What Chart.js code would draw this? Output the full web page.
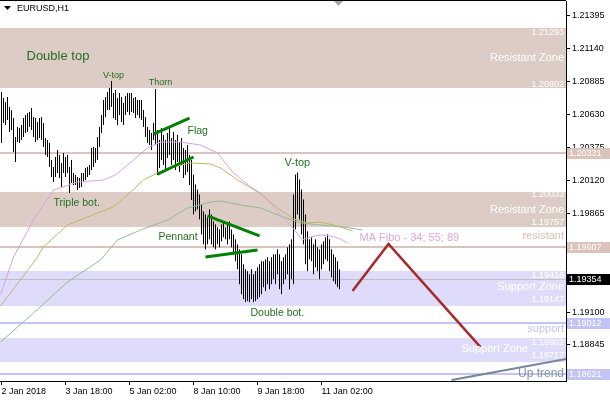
<!DOCTYPE html>
<html>
<head>
<meta charset="utf-8">
<script src="https://cdn.jsdelivr.net/npm/chart.js@4/dist/chart.umd.min.js"></script>
<style>
  html, body { margin: 0; padding: 0; background: #fff; }
  canvas { display: block; }
</style>
</head>
<body>
<canvas id="grafico" width="610" height="400"></canvas>
<script>
// EURUSD H1 - una barra por hora
const highs = [
  1.20806, 1.20759, 1.20728, 1.20767, 1.20690, 1.20666, 1.20604, 1.20457, 1.20535, 1.20527,
  1.20550, 1.20604, 1.20628, 1.20643, 1.20651, 1.20682, 1.20612, 1.20604, 1.20573, 1.20604,
  1.20612, 1.20565, 1.20449, 1.20434, 1.20411, 1.20279, 1.20225, 1.20302, 1.20356, 1.20318,
  1.20256, 1.20333, 1.20302, 1.20318, 1.20225, 1.20279, 1.20178, 1.20163, 1.20147, 1.20139,
  1.20178, 1.20178, 1.20217, 1.20225, 1.20240, 1.20372, 1.20380, 1.20372, 1.20457, 1.20535,
  1.20628, 1.20744, 1.20767, 1.20806, 1.20837, 1.20891, 1.20798, 1.20821, 1.20759, 1.20798,
  1.20767, 1.20721, 1.20775, 1.20798, 1.20798, 1.20798, 1.20759, 1.20767, 1.20744, 1.20744,
  1.20744, 1.20666, 1.20612, 1.20535, 1.20511, 1.20488, 1.20565, 1.20829, 1.20511, 1.20434,
  1.20527, 1.20473, 1.20434, 1.20488, 1.20527, 1.20449, 1.20496, 1.20434, 1.20473, 1.20418,
  1.20449, 1.20372, 1.20356, 1.20395, 1.20318, 1.20279, 1.20166, 1.20089, 1.20050, 1.20012,
  1.19934, 1.19880, 1.19857, 1.19834, 1.19896, 1.19857, 1.19803, 1.19780, 1.19757, 1.19741,
  1.19780, 1.19803, 1.19757, 1.19780, 1.19803, 1.19741, 1.19702, 1.19664, 1.19625, 1.19586,
  1.19548, 1.19471, 1.19432, 1.19417, 1.19393, 1.19432, 1.19393, 1.19417, 1.19447, 1.19471,
  1.19494, 1.19494, 1.19509, 1.19525, 1.19494, 1.19525, 1.19548, 1.19548, 1.19586, 1.19548,
  1.19494, 1.19525, 1.19548, 1.19602, 1.19625, 1.19664, 1.20012, 1.20166, 1.20182, 1.20128,
  1.20050, 1.19973, 1.19857, 1.19726, 1.19664, 1.19679, 1.19625, 1.19664, 1.19602, 1.19586,
  1.19625, 1.19648, 1.19679, 1.19702, 1.19664, 1.19586, 1.19548, 1.19525, 1.19494, 1.19432
];
const lows = [
  1.20411, 1.20565, 1.20550, 1.20589, 1.20496, 1.20511, 1.20341, 1.20263, 1.20418, 1.20411,
  1.20434, 1.20457, 1.20488, 1.20496, 1.20535, 1.20511, 1.20457, 1.20418, 1.20434, 1.20449,
  1.20434, 1.20380, 1.20318, 1.20302, 1.20225, 1.20147, 1.20108, 1.20147, 1.20178, 1.20139,
  1.20070, 1.20178, 1.20147, 1.20178, 1.20023, 1.20101, 1.20085, 1.20085, 1.20046, 1.20062,
  1.20070, 1.20108, 1.20124, 1.20147, 1.20163, 1.20201, 1.20225, 1.20256, 1.20279, 1.20380,
  1.20488, 1.20550, 1.20612, 1.20666, 1.20666, 1.20690, 1.20604, 1.20589, 1.20550, 1.20628,
  1.20573, 1.20550, 1.20628, 1.20651, 1.20628, 1.20651, 1.20643, 1.20604, 1.20628, 1.20604,
  1.20589, 1.20535, 1.20457, 1.20411, 1.20395, 1.20356, 1.20434, 1.20395, 1.20163, 1.20217,
  1.20279, 1.20240, 1.20186, 1.20294, 1.20318, 1.20240, 1.20279, 1.20201, 1.20263, 1.20186,
  1.20240, 1.20139, 1.20163, 1.20186, 1.20085, 1.19969, 1.19857, 1.19880, 1.19896, 1.19818,
  1.19702, 1.19625, 1.19586, 1.19625, 1.19664, 1.19625, 1.19602, 1.19586, 1.19625, 1.19602,
  1.19648, 1.19679, 1.19664, 1.19625, 1.19664, 1.19602, 1.19548, 1.19494, 1.19432, 1.19316,
  1.19239, 1.19200, 1.19177, 1.19185, 1.19177, 1.19200, 1.19177, 1.19185, 1.19200, 1.19216,
  1.19239, 1.19293, 1.19262, 1.19316, 1.19277, 1.19316, 1.19355, 1.19316, 1.19393, 1.19277,
  1.19239, 1.19316, 1.19355, 1.19393, 1.19277, 1.19355, 1.19316, 1.19741, 1.19857, 1.19818,
  1.19702, 1.19625, 1.19471, 1.19417, 1.19509, 1.19494, 1.19393, 1.19447, 1.19417, 1.19355,
  1.19432, 1.19471, 1.19509, 1.19494, 1.19417, 1.19370, 1.19339, 1.19316, 1.19293, 1.19277
];

// medias moviles (MA Fibo 34; 55; 89), leidas punto a punto
const ma34Bars = [-0.5, 6, 16, 26, 38, 51, 57, 66, 73, 79.5, 89.5, 99.5, 108, 116, 124.5, 129.5, 134.5, 139.5, 144.5, 150.5, 154.5, 159.5, 164.5, 169.5, 173];
const ma34Vals = [1.19233, 1.19527, 1.19814, 1.20046, 1.20108, 1.20124, 1.20163, 1.20279, 1.20372, 1.20418, 1.20418, 1.20395, 1.20333, 1.20178, 1.20070, 1.20023, 1.19946, 1.19853, 1.19775, 1.19659, 1.19682, 1.19698, 1.19690, 1.19667, 1.19636];
const ma55Bars = [-0.5, 17, 21, 33, 43, 56, 63, 71, 78, 86, 94.5, 104.5, 109.5, 118, 128, 138, 146, 153, 159.5, 166, 175.5];
const ma55Vals = [1.19147, 1.19504, 1.19605, 1.19775, 1.19837, 1.19915, 1.20008, 1.20124, 1.20178, 1.20225, 1.20256, 1.20248, 1.20217, 1.20124, 1.20031, 1.19907, 1.19822, 1.19791, 1.19798, 1.19775, 1.19729];
const ma89Bars = [-0.5, 16, 33, 49.5, 58, 69.5, 83, 93, 104.5, 109.5, 119.5, 129.5, 139.5, 149.5, 159.5, 171, 180.5];
const ma89Vals = [1.18868, 1.19093, 1.19333, 1.19504, 1.19659, 1.19736, 1.19814, 1.19907, 1.19953, 1.19961, 1.19930, 1.19907, 1.19845, 1.19791, 1.19775, 1.19760, 1.19736];

// objetos dibujados: flag, pennant, zigzag, tendencia
const flagTop = [[76, 1.20480], [94, 1.20604]];
const flagBottom = [[78, 1.20170], [96, 1.20302]];
const pennantTop = [[103, 1.19845], [129, 1.19690]];
const pennantBottom = [[102, 1.19527], [128, 1.19581]];
const zigzag = [[175.5, 1.19263], [193.5, 1.19628], [239.5, 1.18829]];
const upTrend = [[225, 1.18573], [283, 1.18738]];

// zonas y lineas horizontales
const zoneTops = [1.21302, 1.20033, 1.19416, 1.18902];
const zoneBottoms = [1.20833, 1.19757, 1.19147, 1.18717];
const levels = [1.20331, 1.19607, 1.19354, 1.19012, 1.18621];
const levelLabels = ['1.20331', '1.19607', '1.19354', '1.19012', '1.18621'];

const xTicks = [0, 32, 64, 96, 128, 160];
const xLabels = ['2 Jan 2018', '3 Jan 18:00', '5 Jan 02:00', '8 Jan 10:00', '9 Jan 18:00', '11 Jan 02:00'];
const yTicks = [1.18590, 1.18845, 1.19100, 1.19355, 1.19610, 1.19865, 1.20120, 1.20375, 1.20630, 1.20885, 1.21140, 1.21395];
const yLabels = ['1.18590', '1.18845', '1.19100', '1.19355', '1.19610', '1.19865', '1.20120', '1.20375', '1.20630', '1.20885', '1.21140', '1.21395'];
const yMin = 1.18566, yMax = 1.21511;
const xMin = -0.75, xMax = 282.25;

const BEIGE = '#ddccc5', BEIGE_LINEA = '#dbc3bc', LILA = '#dedcfa', LILA_LINEA = '#c3c3f5';
const VERDE = '#22701f';
const FUENTE = "'Liberation Sans', Arial, sans-serif";

const toPts = arr => arr.map(p => ({ x: p[0], y: p[1] }));
const serie = (bars, vals) => bars.map((b, i) => ({ x: b, y: vals[i] }));

// cada barra = segmento low-high, separado por un hueco
const barras = [];
highs.forEach((h, i) => {
    barras.push({ x: i, y: lows[i] }, { x: i, y: h }, { x: i, y: null });
});

const lineaObj = (data, color, w, order) => ({
    data: data, borderColor: color, borderWidth: w,
    pointRadius: 0, tension: 0, fill: false, order: order
});

// textos sobre el grafico (ancla en barra / precio)
const notas = [
    { t: 'Double top', bar: 12.5, p: 1.21085, s: 13, c: VERDE, a: 'left' },
    { t: 'V-top', bar: 56, p: 1.20930, s: 9, c: VERDE, a: 'center' },
    { t: 'Thorn', bar: 79.5, p: 1.20883, s: 9, c: VERDE, a: 'center' },
    { t: 'Flag', bar: 93, p: 1.20504, s: 10.5, c: VERDE, a: 'left' },
    { t: 'Triple bot.', bar: 26, p: 1.19946, s: 10.5, c: VERDE, a: 'left' },
    { t: 'Pennant', bar: 78.5, p: 1.19682, s: 10.5, c: VERDE, a: 'left' },
    { t: 'V-top', bar: 141.5, p: 1.20256, s: 11, c: VERDE, a: 'left' },
    { t: 'Double bot.', bar: 124.5, p: 1.19093, s: 10.5, c: VERDE, a: 'left' },
    { t: 'MA Fibo - 34; 55; 89', bar: 179, p: 1.19674, s: 11, c: '#dca6dc', a: 'left' },
    { t: 'Support Zone', bar: 230, p: 1.18814, s: 11, c: '#ffffff', a: 'left' }
];
// textos pegados al borde derecho
const notasDer = [
    { t: '1.21293', p: 1.21263, s: 9, c: '#ffffff' },
    { t: 'Resistant Zone', p: 1.21070, s: 11, c: '#ffffff' },
    { t: '1.20802', p: 1.20860, s: 9, c: '#ffffff' },
    { t: '1.20033', p: 1.20011, s: 9, c: '#ffffff' },
    { t: 'Resistant Zone', p: 1.19891, s: 11, c: '#ffffff' },
    { t: '1.19757', p: 1.19798, s: 9, c: '#ffffff' },
    { t: 'resistant', p: 1.19690, s: 11, c: '#d9bfae' },
    { t: '1.19416', p: 1.19380, s: 9, c: '#ffffff' },
    { t: 'Support Zone', p: 1.19295, s: 11, c: '#ffffff' },
    { t: '1.19147', p: 1.19201, s: 9, c: '#ffffff' },
    { t: 'support', p: 1.18969, s: 11, c: '#c3c3f2' },
    { t: '1.18902', p: 1.18868, s: 9, c: '#ffffff' },
    { t: '1.18717', p: 1.18760, s: 9, c: '#ffffff' },
    { t: 'Up trend', p: 1.18620, s: 12, c: '#8494a4' }
];

const dibujo = {
    id: 'dibujo',
    beforeDatasetsDraw(chart) {
        const { ctx, chartArea: a, scales: { y } } = chart;
        ctx.save();
        const colZona = [BEIGE, BEIGE, LILA, LILA];
        zoneTops.forEach((t, i) => {
            const y1 = Math.round(y.getPixelForValue(t));
            const y2 = Math.round(y.getPixelForValue(zoneBottoms[i]));
            ctx.fillStyle = colZona[i];
            ctx.fillRect(a.left, y1, a.right - a.left, y2 - y1);
        });
        const colNivel = [BEIGE_LINEA, BEIGE_LINEA, '#c0c0c0', LILA_LINEA, LILA_LINEA];
        const anchoNivel = [2, 2, 1, 2, 2];
        levels.forEach((v, i) => {
            const yy = Math.round(y.getPixelForValue(v));
            ctx.fillStyle = colNivel[i];
            ctx.fillRect(a.left, yy - (anchoNivel[i] > 1 ? 1 : 0), a.right - a.left, anchoNivel[i]);
        });
        ctx.restore();
    },
    afterDatasetsDraw(chart) {
        const { ctx, chartArea: a, scales: { x, y } } = chart;
        ctx.save();
        ctx.textBaseline = 'middle';
        notas.forEach(n => {
            ctx.font = n.s + 'px ' + FUENTE;
            ctx.fillStyle = n.c;
            ctx.textAlign = n.a;
            ctx.fillText(n.t, x.getPixelForValue(n.bar), y.getPixelForValue(n.p));
        });
        ctx.textAlign = 'right';
        notasDer.forEach(n => {
            ctx.font = n.s + 'px ' + FUENTE;
            ctx.fillStyle = n.c;
            ctx.fillText(n.t, a.right - 2, y.getPixelForValue(n.p));
        });
        ctx.restore();
    },
    afterDraw(chart) {
        const { ctx, chartArea: a, scales: { y }, width } = chart;
        ctx.save();
        // etiquetas de precio sobre el eje
        const fondo = [BEIGE_LINEA, BEIGE_LINEA, '#000000', LILA_LINEA, LILA_LINEA];
        ctx.font = '9px ' + FUENTE;
        ctx.textBaseline = 'middle';
        ctx.textAlign = 'left';
        levels.forEach((v, i) => {
            const yy = Math.round(y.getPixelForValue(v));
            ctx.fillStyle = fondo[i];
            ctx.fillRect(a.right + 1, yy - 5, width - a.right - 1, 11);
            ctx.fillStyle = '#ffffff';
            ctx.fillText(levelLabels[i], a.right + 3, yy + 0.5);
        });
        // borde superior
        ctx.fillStyle = '#000';
        ctx.fillRect(0, 0, a.right, 1);
        // simbolo
        ctx.beginPath();
        ctx.moveTo(4, 6); ctx.lineTo(11, 6); ctx.lineTo(7.5, 10); ctx.closePath();
        ctx.fill();
        ctx.font = '9px ' + FUENTE;
        ctx.fillText('EURUSD,H1', 17, 8.5);
        // marca de desplazamiento
        ctx.fillStyle = '#a8a8a8';
        ctx.beginPath();
        ctx.moveTo(334, 1); ctx.lineTo(343, 1); ctx.lineTo(338.5, 6); ctx.closePath();
        ctx.fill();
        ctx.restore();
    }
};

Chart.defaults.font.family = FUENTE;
Chart.defaults.color = '#000';

const ctx = document.getElementById('grafico').getContext('2d');
new Chart(ctx, {
    type: 'line',
    data: {
        datasets: [
            lineaObj(toPts(flagTop), '#008000', 3, 0),
            lineaObj(toPts(flagBottom), '#008000', 3, 0),
            lineaObj(toPts(pennantTop), '#008000', 3, 0),
            lineaObj(toPts(pennantBottom), '#008000', 3, 0),
            lineaObj(toPts(zigzag), '#a52a2a', 2.5, 0),
            lineaObj(toPts(upTrend), '#778899', 2, 0),
            lineaObj(serie(ma34Bars, ma34Vals), '#dda0dd', 1, 1),
            lineaObj(serie(ma55Bars, ma55Vals), '#bdb76b', 1, 1),
            lineaObj(serie(ma89Bars, ma89Vals), '#8fbc8f', 1, 1),
            Object.assign(lineaObj(barras, '#000', 1, 2), { spanGaps: false, borderCapStyle: 'butt' })
        ]
    },
    options: {
        responsive: false,
        animation: false,
        devicePixelRatio: 1,
        layout: { padding: { top: 1, left: 0, right: 0, bottom: 0 } },
        plugins: { legend: { display: false }, tooltip: { enabled: false } },
        scales: {
            x: {
                type: 'linear', min: xMin, max: xMax, offset: false,
                afterBuildTicks: s => { s.ticks = xTicks.map(v => ({ value: v })); },
                afterFit: s => { s.height = 19; s.paddingLeft = 0; s.paddingRight = 0; },
                ticks: {
                    autoSkip: false, maxRotation: 0, align: 'start', padding: 1,
                    font: { size: 9 }, color: '#000',
                    callback: (v, i) => xLabels[i]
                },
                grid: { drawOnChartArea: false, drawTicks: true, tickLength: 4, color: '#000', offset: false },
                border: { display: true, color: '#000' }
            },
            y: {
                position: 'right', min: yMin, max: yMax,
                afterBuildTicks: s => { s.ticks = yTicks.map(v => ({ value: v })); },
                afterFit: s => { s.width = 44; s.paddingTop = 0; s.paddingBottom = 0; },
                ticks: {
                    padding: 2, font: { size: 9 }, color: '#000',
                    callback: (v, i) => yLabels[i]
                },
                grid: { drawOnChartArea: false, drawTicks: true, tickLength: 4, color: '#000' },
                border: { display: true, color: '#000' }
            }
        }
    },
    plugins: [dibujo]
});
</script>
</body>
</html>
